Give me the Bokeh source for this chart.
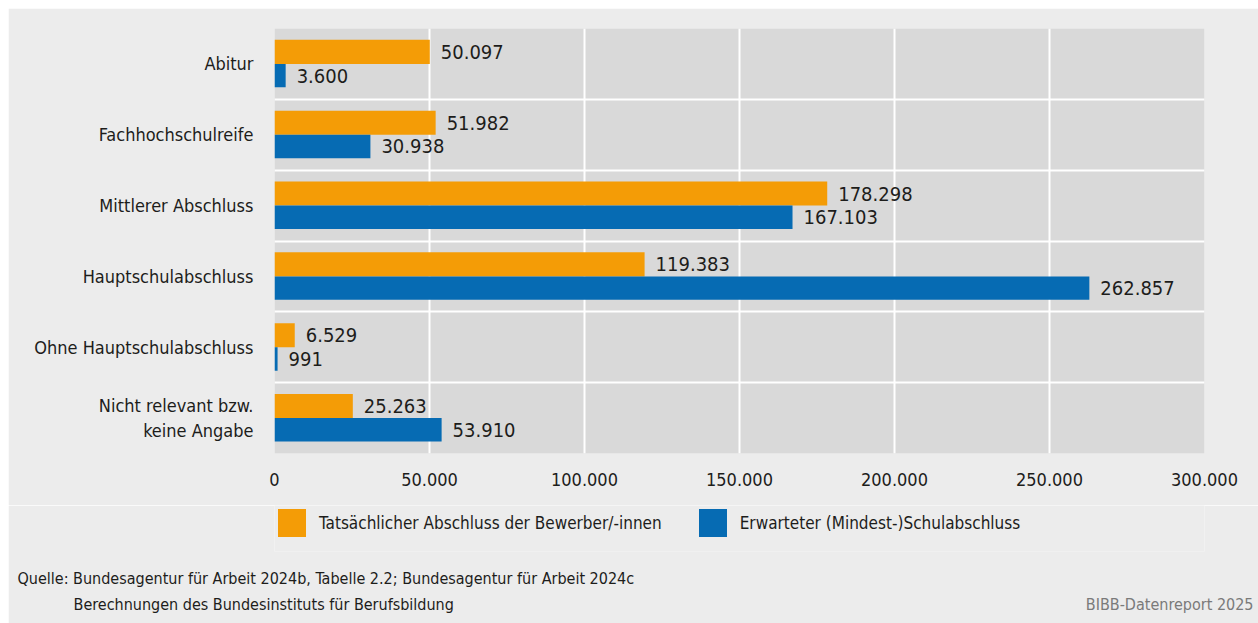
from bokeh.plotting import figure
from bokeh.layouts import column
from bokeh.models import ColumnDataSource, FixedTicker, Range1d, Legend, LegendItem, Title
from bokeh.embed import file_html
from bokeh.resources import INLINE
from bokeh.core.properties import value

categories = ["Abitur", "Fachhochschulreife", "Mittlerer Abschluss", "Hauptschulabschluss",
              "Ohne Hauptschulabschluss", "Nicht relevant bzw.\nkeine Angabe"]
tatsaechlich = [50097, 51982, 178298, 119383, 6529, 25263]
erwartet = [3600, 30938, 167103, 262857, 991, 53910]
series_names = ["Tatsächlicher Abschluss der Bewerber/-innen", "Erwarteter (Mindest-)Schulabschluss"]
x_ticks = [0, 50000, 100000, 150000, 200000, 250000, 300000]
source_line1 = "Quelle: Bundesagentur für Arbeit 2024b, Tabelle 2.2; Bundesagentur für Arbeit 2024c"
source_line2 = "Berechnungen des Bundesinstituts für Berufsbildung"
credit = "BIBB-Datenreport 2025"

FONT = "DejaVu Sans Condensed"
TXT = "#1d1d1b"
ORANGE = "#f49c06"
BLUE = "#066bb3"
BG = "#ececec"
FS = "18px"
FH = 19  # approx. text box height of the 16px footer font


def de(v):
    return f"{v:,}".replace(",", ".")


n = len(categories)
pos = list(range(n))
src_a = ColumnDataSource(dict(y=[i + 0.33 for i in pos], v=tatsaechlich, lab=[de(v) for v in tatsaechlich]))
src_b = ColumnDataSource(dict(y=[i + 0.665 for i in pos], v=erwartet, lab=[de(v) for v in erwartet]))

# ---------- main chart ----------
p = figure(width=1250, height=497, frame_width=930, frame_height=425,
           x_range=Range1d(0, 300000), y_range=Range1d(n, 0),
           output_backend="svg", toolbar_location=None,
           min_border_left=266, min_border_right=54, min_border_top=20, min_border_bottom=52)
p.background_fill_color = "#d9d9d9"
p.border_fill_color = BG
p.outline_line_color = None

bar_a = dict(height=0.34, fill_color=ORANGE, line_color=None)
bar_b = dict(height=0.33, fill_color=BLUE, line_color=None)
p.hbar(y="y", right="v", left=0, source=src_a, **bar_a)
p.hbar(y="y", right="v", left=0, source=src_b, **bar_b)
for s in (src_a, src_b):
    p.text(x="v", y="y", text="lab", source=s, x_offset=11, text_baseline="middle",
           text_align="left", text_font=value(FONT), text_font_size="20px", text_color=TXT)

p.yaxis.ticker = FixedTicker(ticks=[i + 0.5 for i in pos])
p.yaxis.major_label_overrides = {i + 0.5: c for i, c in zip(pos, categories)}
p.xaxis.ticker = FixedTicker(ticks=x_ticks)
p.xaxis.major_label_overrides = {t: de(t) for t in x_ticks}
for ax in (p.xaxis, p.yaxis):
    ax.axis_line_color = None
    ax.major_tick_line_color = None
    ax.minor_tick_line_color = None
    ax.major_tick_out = 0
    ax.major_tick_in = 0
    ax.minor_tick_out = 0
    ax.major_label_text_font = FONT
    ax.major_label_text_font_size = FS
    ax.major_label_text_color = TXT
p.yaxis.major_label_standoff = 21
p.xaxis.major_label_standoff = 19

p.xgrid.ticker = FixedTicker(ticks=x_ticks)
p.ygrid.ticker = FixedTicker(ticks=list(range(1, n)))
for g in (p.xgrid, p.ygrid):
    g.grid_line_color = "white"
    g.grid_line_width = 2

# ---------- legend + source notes ----------
# the legend strip reuses the same series sources; its renderers are hidden,
# so only the legend swatches are drawn here
q = figure(width=1250, height=118, frame_width=930, frame_height=46,
           x_range=Range1d(0, 300000), y_range=Range1d(100, 101), x_axis_type=None, y_axis_type=None,
           output_backend="svg", toolbar_location=None,
           min_border_left=266, min_border_right=54, min_border_top=0, min_border_bottom=72)
q.background_fill_color = BG
q.border_fill_color = BG
q.outline_line_color = None
q.grid.visible = False
la = q.hbar(y="y", right="v", left=0, source=src_a, **bar_a)
lb = q.hbar(y="y", right="v", left=0, source=src_b, **bar_b)
la.visible = False
lb.visible = False

legend = Legend(items=[LegendItem(label=value(series_names[0]), renderers=[la]),
                       LegendItem(label=value(series_names[1]), renderers=[lb])],
                orientation="horizontal", location="top_left", click_policy="none",
                glyph_width=35, glyph_height=35, label_standoff=10, spacing=33,
                padding=0, margin=0, border_line_color=None, background_fill_alpha=0,
                label_text_font=FONT, label_text_font_size="17px", label_text_color=TXT)
q.add_layout(legend)

common = dict(text_font=FONT, text_font_size="16px", text_font_style="normal")
q.add_layout(Title(text=source_line1, align="left", offset=-257, standoff=50 - FH,
                   vertical_align="bottom", text_color=TXT, **common), "below")
q.add_layout(Title(text=credit, align="right", offset=-49, standoff=-(2 + FH) + 2,
                   vertical_align="middle", text_color="#7a7a7a", **common), "below")
q.add_layout(Title(text=source_line2, align="left", offset=-201, standoff=-FH - 3,
                   vertical_align="top", text_color=TXT, **common), "below")

layout = column(p, q, spacing=0, margin=(8, 0, 0, 8))
open("out.html", "w").write(file_html(layout, INLINE))
